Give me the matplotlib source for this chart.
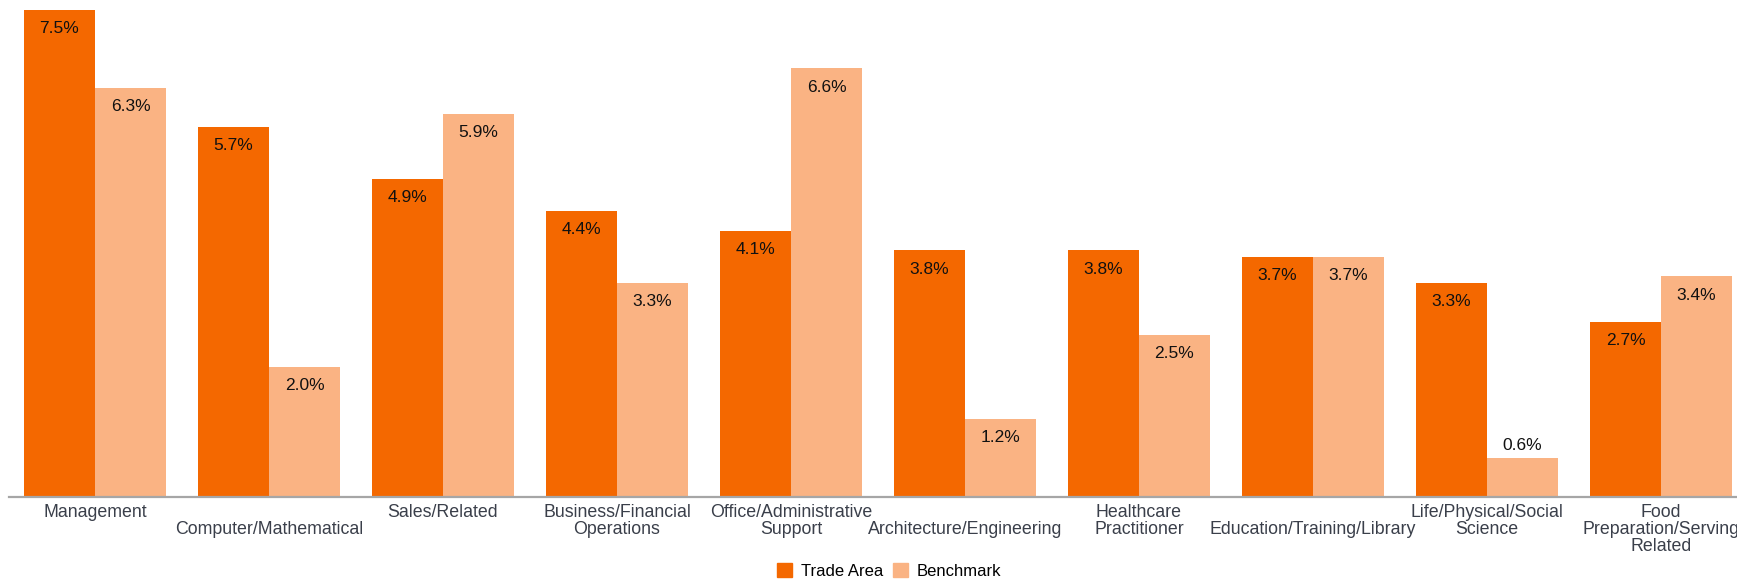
import numpy as np
import matplotlib
matplotlib.use("Agg")
import matplotlib.pyplot as plt
from matplotlib.patches import Patch

# データ
categories = ["Management", "\nComputer/Mathematical", "Sales/Related",
              "Business/Financial\nOperations", "Office/Administrative\nSupport",
              "\nArchitecture/Engineering", "Healthcare\nPractitioner",
              "\nEducation/Training/Library", "Life/Physical/Social\nScience",
              "Food\nPreparation/Serving\nRelated"]
trade_area = [7.5, 5.7, 4.9, 4.4, 4.1, 3.8, 3.8, 3.7, 3.3, 2.7]
benchmark = [6.3, 2.0, 5.9, 3.3, 6.6, 1.2, 2.5, 3.7, 0.6, 3.4]
series_names = ["Trade Area", "Benchmark"]

ORANGE = "#F46800"
LIGHT = "#FAB383"

plt.rcParams['font.family'] = ['Liberation Sans', 'DejaVu Sans']

W, H = 1737, 581
fig = plt.figure(figsize=(W / 100, H / 100), dpi=100)
base_px = 497
ax = fig.add_axes([9 / W, (H - base_px) / H, (W - 9) / W, base_px / H])

x = np.arange(len(categories))
bw = 0.408
b1 = ax.bar(x - bw / 2, trade_area, bw, color=ORANGE, linewidth=0)
b2 = ax.bar(x + bw / 2, benchmark, bw, color=LIGHT, linewidth=0)

# ラベル (短いバーは上に出す)
for bars, vals in [(b1, trade_area), (b2, benchmark)]:
    for r, v in zip(bars, vals):
        cx = r.get_x() + r.get_width() / 2
        dy = 12 if v < 1.0 else -19
        ax.annotate(f"{v:.1f}%", (cx, v), xytext=(0, dy), textcoords='offset pixels',
                    ha='center', va='center', fontsize=12.5, color='#111111')

ax.set_xlim(-0.494, 9.437)
ax.set_ylim(0, base_px / 65)
ax.set_xticks(x)
ax.set_xticklabels(categories, fontsize=12.8, color='#3a3f4a', linespacing=1.02, va='top')
ax.tick_params(axis='x', length=0, pad=5)
ax.set_yticks([])
for s in ['top', 'right', 'left']:
    ax.spines[s].set_visible(False)
ax.spines['bottom'].set_color('#A6A6A6')
ax.spines['bottom'].set_linewidth(1.6)

handles = [Patch(color=ORANGE, label=series_names[0]), Patch(color=LIGHT, label=series_names[1])]
fig.legend(handles=handles, loc='center', bbox_to_anchor=(889 / W, 1 - 571 / H),
           ncol=2, frameon=False, fontsize=12, handlelength=0.9, handleheight=0.9,
           handletextpad=0.5, columnspacing=0.6)

fig.savefig("out.png", dpi=100)
